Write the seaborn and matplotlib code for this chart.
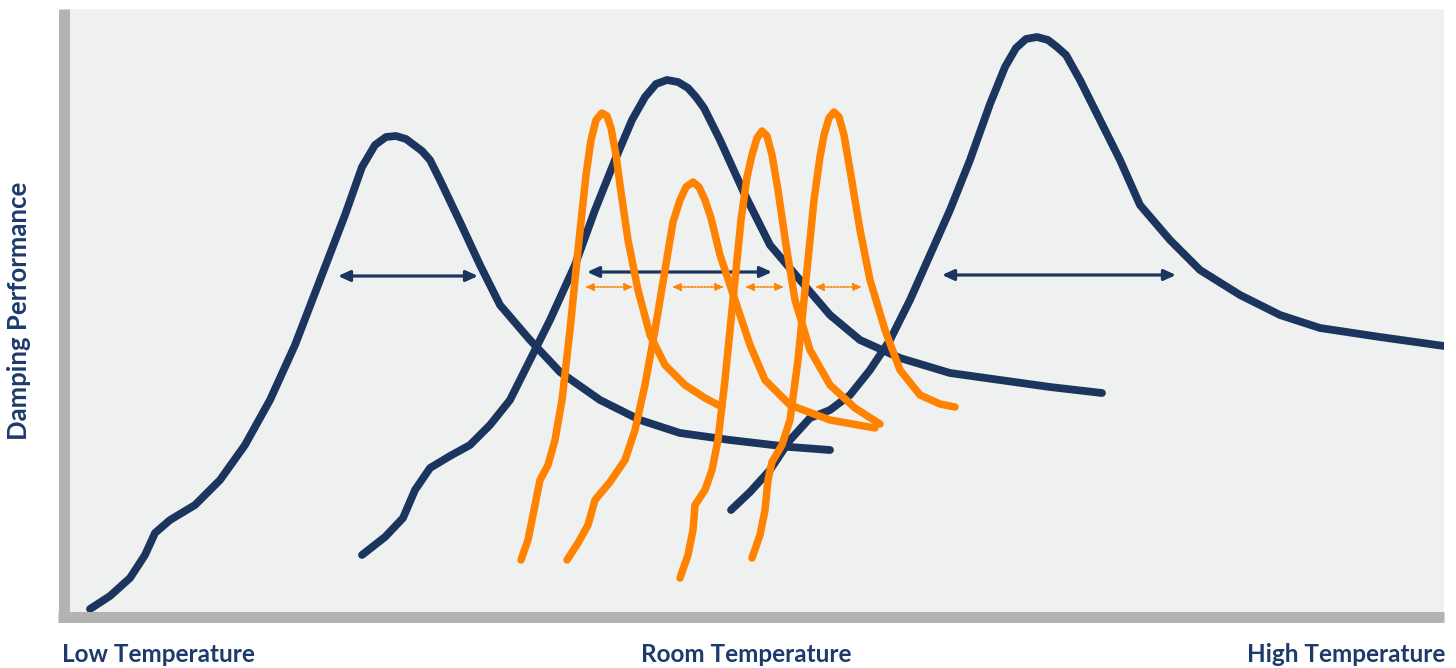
import numpy as np
import pandas as pd
import matplotlib
matplotlib.use("Agg")
import matplotlib.pyplot as plt
import seaborn as sns

# ---- data (temperature position, damping level) ----
navy_low_x = [90, 110, 130, 145, 155, 170, 195, 220, 245, 270, 295, 320, 345, 362, 375, 386, 396, 406, 414, 422, 430, 440, 460, 480, 500, 530, 560, 600, 640, 680, 730, 790, 830]
navy_low_y = [8, 21, 39, 62, 84, 97, 112, 137, 172, 217, 272, 337, 402, 450, 472, 480, 481, 478, 472, 466, 457, 437, 395, 352, 312, 277, 245, 217, 197, 184, 177, 170, 167]

navy_room_x = [362, 385, 403, 415, 430, 450, 470, 490, 510, 530, 550, 575, 595, 615, 632, 645, 656, 667, 678, 688, 696, 704, 720, 745, 770, 800, 830, 860, 900, 950, 1000, 1050, 1102]
navy_room_y = [62, 80, 99, 127, 149, 161, 172, 192, 217, 257, 297, 352, 407, 457, 497, 520, 533, 537, 535, 529, 520, 509, 477, 422, 372, 337, 302, 277, 259, 244, 237, 230, 224]

navy_high_x = [731, 750, 770, 790, 810, 830, 850, 870, 890, 910, 930, 950, 970, 990, 1005, 1016, 1026, 1037, 1048, 1057, 1066, 1080, 1100, 1120, 1140, 1170, 1200, 1240, 1280, 1320, 1380, 1444]
navy_high_y = [107, 125, 147, 177, 199, 207, 222, 247, 277, 317, 362, 407, 457, 513, 550, 569, 578, 580, 577, 570, 562, 537, 497, 457, 412, 377, 347, 322, 302, 289, 280, 271]

orange1_x = [521, 528, 535, 540, 548, 555, 562, 570, 578, 586, 591, 596, 602, 607, 611, 616, 620, 628, 638, 650, 665, 685, 705, 722]
orange1_y = [57, 77, 112, 137, 152, 177, 217, 287, 367, 442, 477, 497, 504, 501, 489, 462, 432, 377, 327, 282, 252, 232, 219, 210]

orange2_x = [567, 578, 588, 595, 610, 625, 635, 645, 655, 665, 673, 680, 686, 693, 699, 705, 711, 720, 735, 750, 765, 790, 830, 875]
orange2_y = [57, 74, 92, 117, 135, 157, 187, 232, 287, 347, 395, 417, 430, 435, 430, 417, 399, 362, 317, 272, 237, 212, 197, 189]

orange3_x = [680, 688, 693, 695, 705, 712, 718, 725, 733, 741, 747, 752, 757, 762, 767, 772, 778, 786, 795, 810, 830, 855, 880]
orange3_y = [39, 62, 87, 112, 127, 147, 177, 237, 317, 397, 440, 462, 479, 486, 481, 462, 427, 372, 317, 267, 232, 209, 193]

orange4_x = [752, 760, 765, 768, 772, 782, 790, 798, 806, 814, 820, 824, 829, 834, 839, 844, 850, 860, 870, 885, 900, 920, 940, 955]
orange4_y = [59, 82, 107, 137, 155, 172, 197, 257, 337, 417, 460, 482, 499, 505, 500, 482, 447, 387, 337, 287, 247, 222, 213, 210]

# width markers (start, end, level)
navy_span_start = [338, 587, 942]
navy_span_end = [478, 772, 1176]
navy_span_level = [341, 345, 342]
orange_span_start = [585, 672, 745, 815]
orange_span_end = [633, 724, 784, 862]
orange_span_level = [330, 330, 330, 330]

x_labels = ["Low Temperature", "Room Temperature", "High Temperature"]
y_label = "Damping Performance"

# ---- style ----
NAVY = "#1b355e"
ORANGE = "#ff8300"
GRAY = "#b2b3b2"
BG = "#eff1f0"
TXT = "#1c3a6b"

sns.set_style("white")
plt.rcParams["font.family"] = ["Lato", "DejaVu Sans"]

W, H = 1456, 668
fig = plt.figure(figsize=(W / 100, H / 100), dpi=100)
fig.patch.set_facecolor("white")
x0, x1, ytop, ybase = 63.5, 1444, 9, 617
ax = fig.add_axes([x0 / W, (H - ybase) / H, (x1 - x0) / W, (ybase - ytop) / H])
ax.set_facecolor(BG)
ax.set_xlim(x0, x1)
ax.set_ylim(0, ybase - ytop)

navy_curves = [(navy_low_x, navy_low_y), (navy_room_x, navy_room_y), (navy_high_x, navy_high_y)]
orange_curves = [(orange1_x, orange1_y), (orange2_x, orange2_y), (orange3_x, orange3_y), (orange4_x, orange4_y)]

for cx, cy in navy_curves:
    sns.lineplot(x=cx, y=cy, sort=False, ax=ax, color=NAVY, lw=5.6,
                 solid_capstyle="round", solid_joinstyle="round", zorder=2)

for s, e, lv in zip(navy_span_start, navy_span_end, navy_span_level):
    ax.annotate("", xy=(e, lv), xytext=(s, lv),
                arrowprops=dict(arrowstyle="<|-|>,head_length=0.7,head_width=0.32",
                                color=NAVY, lw=2.3, shrinkA=0, shrinkB=0), zorder=3)

for cx, cy in orange_curves:
    sns.lineplot(x=cx, y=cy, sort=False, ax=ax, color=ORANGE, lw=5.4,
                 solid_capstyle="round", solid_joinstyle="round", zorder=4)

for s, e, lv in zip(orange_span_start, orange_span_end, orange_span_level):
    ax.annotate("", xy=(e, lv), xytext=(s, lv),
                arrowprops=dict(arrowstyle="<|-|>,head_length=0.5,head_width=0.22",
                                color=ORANGE, lw=1.2, ls=(0, (1, 1)),
                                shrinkA=0, shrinkB=0), zorder=5)

ax.set_xticks([])
ax.set_yticks([])
ax.set_xlabel("")
ax.set_ylabel("")
for side in ["top", "right"]:
    ax.spines[side].set_visible(False)
for side in ["left", "bottom"]:
    ax.spines[side].set_visible(True)
    ax.spines[side].set_color(GRAY)
    ax.spines[side].set_linewidth(11 * 0.72)
    ax.spines[side].set_capstyle("butt")
ax.spines["bottom"].set_bounds(x0 - 5.5, x1)
ax.spines["left"].set_bounds(0, ybase - ytop)

fs = 17.5
fig.text(62 / W, 1 - 655 / H, x_labels[0], ha="left", va="center",
         fontsize=fs, fontweight="bold", color=TXT)
fig.text(746 / W, 1 - 655 / H, x_labels[1], ha="center", va="center",
         fontsize=fs, fontweight="bold", color=TXT)
fig.text(1445 / W, 1 - 655 / H, x_labels[2], ha="right", va="center",
         fontsize=fs, fontweight="bold", color=TXT)
fig.text(19 / W, 1 - 311 / H, y_label, ha="center", va="center", rotation=90,
         fontsize=18.5, fontweight="bold", color=TXT)

fig.savefig("out.png", dpi=100, facecolor="white")
